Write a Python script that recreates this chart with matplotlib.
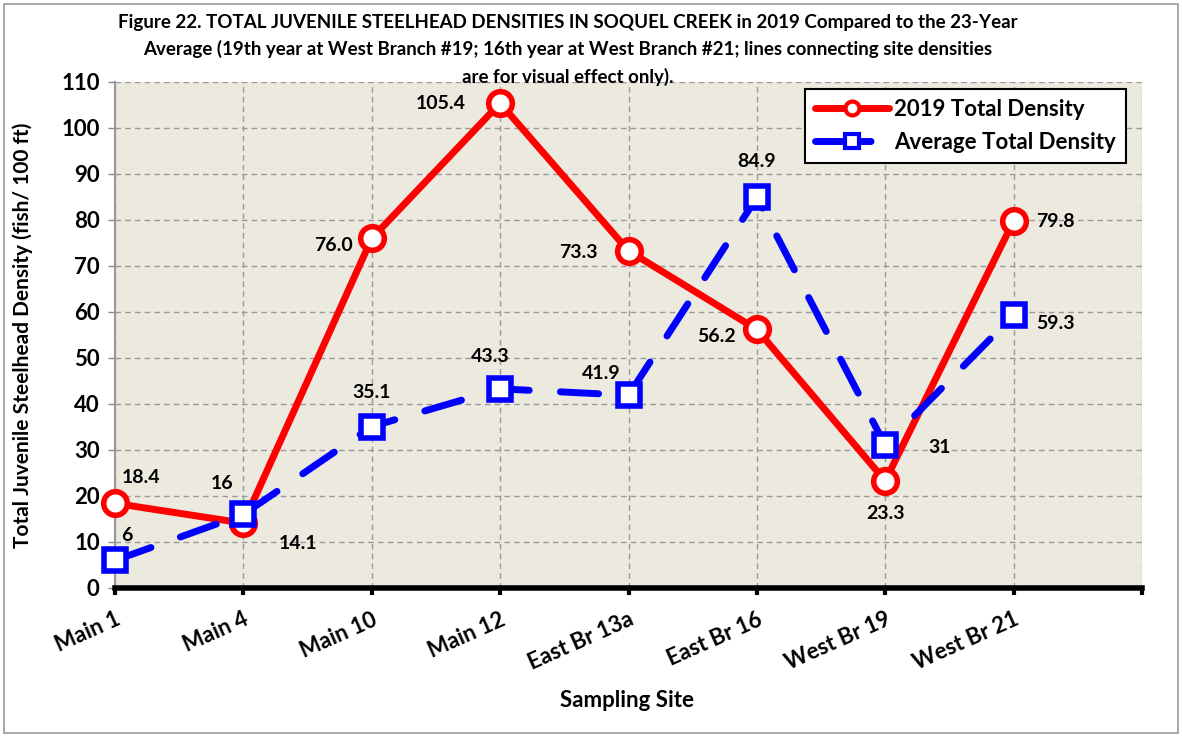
import matplotlib.pyplot as plt
from matplotlib.patches import Rectangle
from matplotlib.lines import Line2D
import numpy as np

plt.rcParams['font.family'] = ['Lato', 'DejaVu Sans']
plt.rcParams['font.weight'] = 'bold'

sites = ['Main 1', 'Main 4', 'Main 10', 'Main 12', 'East Br 13a',
         'East Br 16', 'West Br 19', 'West Br 21']
dens_2019 = [18.4, 14.1, 76.0, 105.4, 73.3, 56.2, 23.3, 79.8]
dens_avg = [6, 16, 35.1, 43.3, 41.9, 84.9, 31, 59.3]
lab_2019 = ['18.4', '14.1', '76.0', '105.4', '73.3', '56.2', '23.3', '79.8']
lab_avg = ['6', '16', '35.1', '43.3', '41.9', '84.9', '31', '59.3']

# label offsets in pixels (dx, dy), y up
off_2019 = [(26, 26), (55, -20), (-38, -7), (-59, 0), (-50, -2), (-40, -7), (0, -33), (42, -1)]
off_avg = [(12, 25), (-21, 31), (0, 34), (-10, 32), (-27, 22), (0, 36), (54, -2), (42, -8)]

fig = plt.figure(figsize=(11.82, 7.36), dpi=100)
ax = fig.add_axes([115/1182, 1 - 588/736, (1142-115)/1182, (588-82)/736])
ax.set_facecolor('#ECE9DF')

x = np.arange(len(sites))

ax.plot(x, dens_2019, color='#FF0000', lw=5, marker='o', ms=17,
        mfc='white', mec='#FF0000', mew=4, zorder=3,
        solid_capstyle='round', clip_on=False)
ax.plot(x, dens_avg, color='#0000FF', lw=5, marker='s', ms=16,
        mfc='white', mec='#0000FF', mew=4, zorder=4,
        dashes=(5.5, 4.5), dash_capstyle='round', clip_on=False)

px = 0.72
for i in range(len(sites)):
    ax.annotate(lab_2019[i], (x[i], dens_2019[i]),
                xytext=(off_2019[i][0]*px, off_2019[i][1]*px), textcoords='offset points',
                ha='center', va='center', fontsize=14, fontweight='bold', zorder=6)
    ax.annotate(lab_avg[i], (x[i], dens_avg[i]),
                xytext=(off_avg[i][0]*px, off_avg[i][1]*px), textcoords='offset points',
                ha='center', va='center', fontsize=14, fontweight='bold', zorder=6)

ax.set_xlim(0, 8)
ax.set_ylim(0, 110)
ax.set_yticks(np.arange(0, 111, 10))
ax.set_xticks(np.arange(0, 9))
ax.set_xticklabels(sites + [''], rotation=24, ha='right', rotation_mode='anchor',
                   fontsize=16, fontweight='bold')
for t in ax.get_yticklabels():
    t.set_fontsize(16)
    t.set_fontweight('bold')
ax.tick_params(axis='x', length=5, width=3, color='black', pad=10)
ax.tick_params(axis='y', length=5, width=1, color='#888888', pad=6)

ax.grid(True, color='#999999', ls=(0, (4, 3)), lw=1)
ax.set_axisbelow(True)
for s in ['top', 'right']:
    ax.spines[s].set_visible(False)
ax.spines['left'].set_color('#999999')
ax.spines['left'].set_linewidth(1.5)
ax.spines['bottom'].set_color('black')
ax.spines['bottom'].set_linewidth(4)

ax.set_ylabel('Total Juvenile Steelhead Density (fish/ 100 ft)', fontsize=15,
              fontweight='bold')
ax.yaxis.set_label_coords((33-115)/1027, 0.5)
ax.set_xlabel('Sampling Site', fontsize=16, fontweight='bold')
ax.xaxis.set_label_coords((627-115)/1027, (588-690)/506)

fig.text(568/1182, 1 - 50/736,
         'Figure 22. TOTAL JUVENILE STEELHEAD DENSITIES IN SOQUEL CREEK in 2019 Compared to the 23-Year\n'
         'Average (19th year at West Branch #19; 16th year at West Branch #21; lines connecting site densities\n'
         'are for visual effect only).',
         ha='center', va='center', fontsize=13.5, fontweight='bold', linespacing=1.62)

# legend proxies
h_red = Line2D([], [], color='#FF0000', lw=5, marker='o', ms=10, mfc='white',
               mec='#FF0000', mew=3, solid_capstyle='round')
h_blue = Line2D([], [], color='#0000FF', lw=5, marker='s', ms=10, mfc='white',
                mec='#0000FF', mew=3, dashes=(8, 5), dash_capstyle='round')
leg = ax.legend([h_red, h_blue], ['2019 Total Density', 'Average Total Density'],
                loc='upper right', bbox_to_anchor=((1126-115)/1027, (588-89)/506),
                borderaxespad=0, fontsize=16, frameon=True, fancybox=False,
                edgecolor='black', framealpha=1, borderpad=0.45, handlelength=3.3,
                handletextpad=0.25, labelspacing=0.55)
leg.get_frame().set_linewidth(1.5)
leg.set_zorder(7)

fig.patches.append(Rectangle((4/1182, 3/736), 1174/1182, 729/736, transform=fig.transFigure,
                             fill=False, edgecolor='#999999', lw=1.2))

fig.savefig('out.png', dpi=100)
